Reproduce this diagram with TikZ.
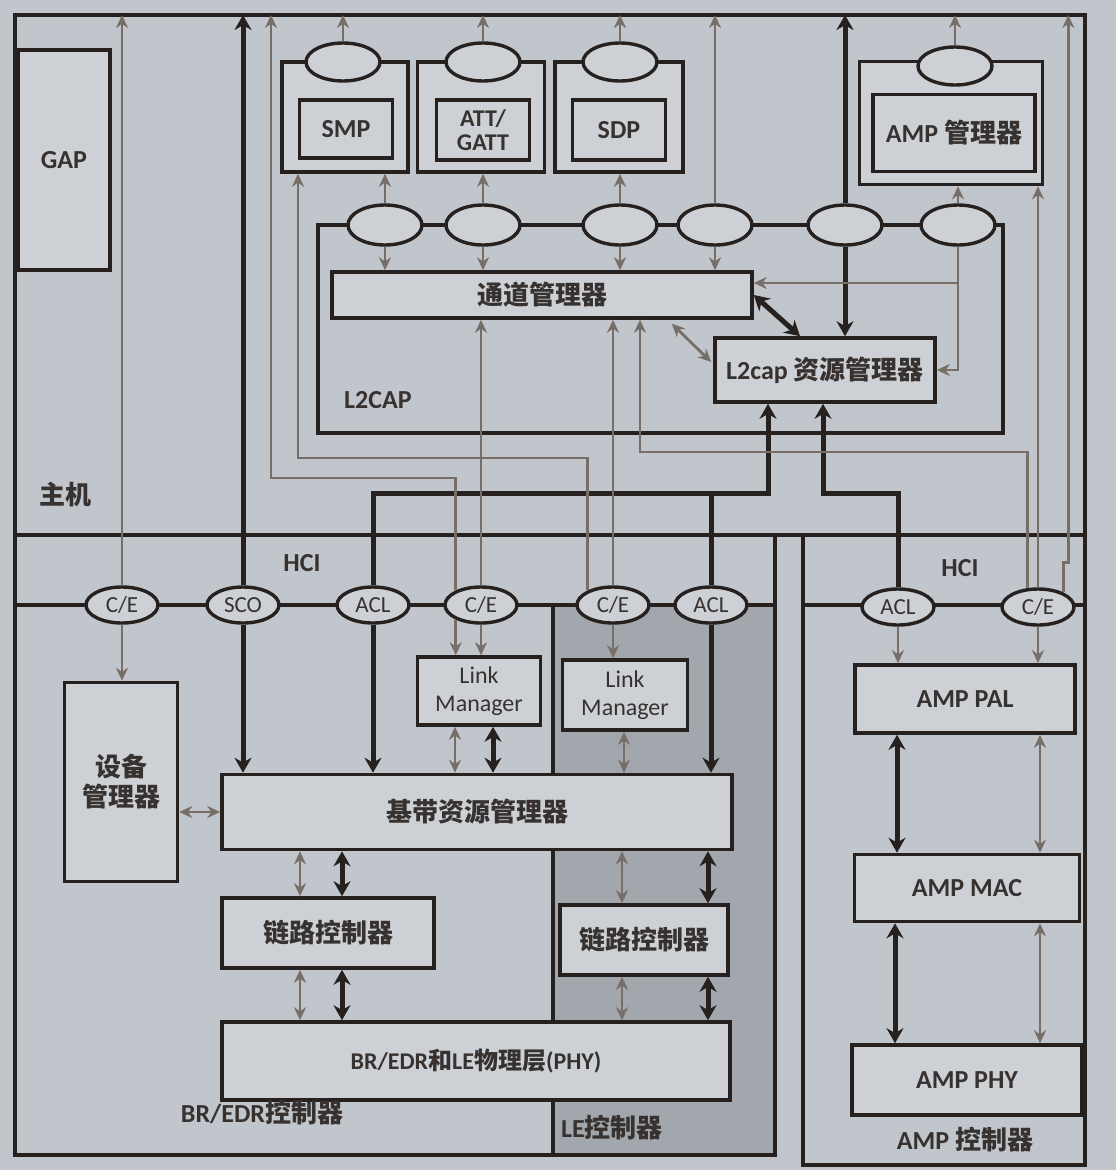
\documentclass[tikz,border=0pt]{standalone}
\usepackage{fontspec}
\setmainfont{Carlito}
\newfontfamily\cjk{Noto Sans CJK SC}
\newcommand{\zhtxt}[1]{{\cjk #1}}
\usetikzlibrary{shapes.geometric,arrows.meta,calc}
\definecolor{bgc}{RGB}{193,198,204}
\definecolor{boxc}{RGB}{205,209,214}
\definecolor{lec}{RGB}{162,167,174}
\definecolor{linec}{RGB}{38,33,30}
\definecolor{grayc}{RGB}{118,110,103}
\definecolor{textc}{RGB}{55,50,48}
\begin{document}
\begin{tikzpicture}[x=1pt,y=-1pt,
  box/.style={draw=linec,line width=3.6pt,fill=boxc,inner sep=2pt,align=center,text=textc,font=\fontsize{26}{30}\selectfont\bfseries},
  ell/.style={ellipse,draw=linec,line width=3.4pt,fill=boxc,minimum width=72pt,minimum height=36pt,inner sep=0pt,text=textc,font=\fontsize{23}{26}\selectfont},
  fr/.style={draw=linec,line width=3.6pt},
  gl/.style={draw=grayc,line width=2.8pt},
  bl/.style={draw=linec,line width=5pt},
  ga/.style={gl,-{Stealth[length=13pt,width=12pt]}},
  gd/.style={gl,{Stealth[length=13pt,width=12pt]}-{Stealth[length=13pt,width=12pt]}},
  ba/.style={bl,-{Stealth[length=15pt,width=17pt]}},
  bd/.style={bl,{Stealth[length=15pt,width=17pt]}-{Stealth[length=15pt,width=17pt]}},
  lbl/.style={text=textc,font=\fontsize{26}{30}\selectfont\bfseries}
]
\fill[bgc] (0,0) rectangle (1116,1170);
\useasboundingbox (0,0) rectangle (1116,1170);
\fill[lec] (553,605) rectangle (775,1155);
% frames
\draw[fr] (15,535) -- (15,15) -- (1085,15) -- (1085,1165) -- (803,1165) -- (803,535);
\draw[fr] (15,535) -- (1085,535);
\draw[fr] (15,535) -- (15,1155) -- (775,1155) -- (775,535);
\draw[fr] (15,605) -- (775,605);
\draw[fr] (803,605) -- (1085,605);
\draw[fr] (553,605) -- (553,1155);
\draw[fr] (318,225) rectangle (1003,433);
\coordinate (T) at (0,15);
% host boxes
\node[box,minimum width=92pt,minimum height=220pt] (gap) at (64,160) {GAP};
\node[box,minimum width=126pt,minimum height=110pt] (smpo) at (345,117) {};
\node[box,minimum width=93pt,minimum height=58pt] (smpi) at (346,129) {SMP};
\node[box,minimum width=127pt,minimum height=110pt] (atto) at (481,117) {};
\node[box,minimum width=93pt,minimum height=60pt,font=\fontsize{24}{24}\selectfont\bfseries] (atti) at (483,130) {ATT/\\GATT};
\node[box,minimum width=128pt,minimum height=110pt] (sdpo) at (619,117) {};
\node[box,minimum width=93pt,minimum height=60pt] (sdpi) at (619,130) {SDP};
\node[box,minimum width=183pt,minimum height=123pt] (ampmo) at (951,123) {};
\node[box,minimum width=162pt,minimum height=77pt] (ampmi) at (954,133) {AMP \zhtxt{管理器}};
\node[ell,minimum width=74pt,minimum height=38pt] (es) at (343,62) {};
\node[ell,minimum width=74pt,minimum height=38pt] (ea) at (483,62) {};
\node[ell,minimum width=74pt,minimum height=38pt] (ed) at (620,62) {};
\node[ell,minimum width=74pt,minimum height=38pt] (em) at (955,66) {};
% L2CAP
\node[ell,minimum width=74pt,minimum height=40pt] (l1) at (385,225) {};
\node[ell,minimum width=74pt,minimum height=40pt] (l2) at (483,225) {};
\node[ell,minimum width=74pt,minimum height=40pt] (l3) at (620,225) {};
\node[ell,minimum width=74pt,minimum height=40pt] (l4) at (715,225) {};
\node[ell,minimum width=74pt,minimum height=40pt] (l5) at (845,225) {};
\node[ell,minimum width=74pt,minimum height=40pt] (l6) at (958,225) {};
\node[box,minimum width=420pt,minimum height=46pt] (ch) at (542,295) {\zhtxt{通道管理器}};
\node[box,minimum width=220pt,minimum height=64pt] (res) at (825,370) {L2cap \zhtxt{资源管理器}};
\node[lbl] (l2lab) at (378,400) {L2CAP};
\node[lbl] (hostlab) at (65,495) {\zhtxt{主机}};
\node[lbl] (hci1) at (302,563) {HCI};
\node[lbl] (hci2) at (960,568) {HCI};
% HCI ellipses
\node[ell] (ce1) at (122,605) {C/E};
\node[ell] (sco) at (243,605) {SCO};
\node[ell] (acl1) at (373,605) {ACL};
\node[ell] (ce2) at (481,605) {C/E};
\node[ell] (ce3) at (613,605) {C/E};
\node[ell] (acl2) at (711,605) {ACL};
\node[ell] (aacl) at (898,607) {ACL};
\node[ell] (ace) at (1038,607) {C/E};
% controller boxes
\node[box,minimum width=113pt,minimum height=199pt] (dev) at (121,782) {\zhtxt{设备}\\\zhtxt{管理器}};
\node[box,minimum width=123pt,minimum height=68pt,font=\fontsize{24}{28}\selectfont] (lm1) at (479,691) {Link\\Manager};
\node[box,minimum width=125pt,minimum height=70pt,font=\fontsize{24}{28}\selectfont] (lm2) at (625,695) {Link\\Manager};
\node[box,minimum width=510pt,minimum height=75pt] (bb) at (477,812) {\zhtxt{基带资源管理器}};
\node[box,minimum width=212pt,minimum height=70pt] (lc1) at (328,933) {\zhtxt{链路控制器}};
\node[box,minimum width=168pt,minimum height=70pt] (lc2) at (644,940) {\zhtxt{链路控制器}};
\node[box,minimum width=508pt,minimum height=78pt,font=\fontsize{24}{28}\selectfont\bfseries] (phy) at (476,1061) {BR/EDR\zhtxt{和}LE\zhtxt{物理层}(PHY)};
\node[box,minimum width=220pt,minimum height=68pt] (pal) at (965,699) {AMP PAL};
\node[box,minimum width=225pt,minimum height=67pt] (mac) at (967,888) {AMP MAC};
\node[box,minimum width=230pt,minimum height=70pt] (aphy) at (967,1080) {AMP PHY};
\node[lbl] (brlab) at (262,1113) {BR/EDR\zhtxt{控制器}};
\node[lbl] (lelab) at (612,1128) {LE\zhtxt{控制器}};
\node[lbl] (amplab) at (965,1140) {AMP \zhtxt{控制器}};
% top arrows
\draw[ga] (ce1.north) -- (ce1.north |- T);
\draw[ba] (sco.north) -- (sco.north |- T);
\draw[ga] (es.north) -- (es.north |- T);
\draw[ga] (ea.north) -- (ea.north |- T);
\draw[ga] (ed.north) -- (ed.north |- T);
\draw[ga] (em.north) -- (em.north |- T);
\draw[ga] (l4.north) -- (l4.north |- T);
\draw[ba] (l5.north) -- (l5.north |- T);
% L2CAP ellipses
\draw[ga] (l1.north) -- (l1.north |- smpo.south);
\draw[ga] (l2.north) -- (l2.north |- atto.south);
\draw[ga] (l3.north) -- (l3.north |- sdpo.south);
\draw[ga] (l6.north) -- (l6.north |- ampmo.south);
\draw[ga] (l1.south) -- (l1.south |- ch.north);
\draw[ga] (l2.south) -- (l2.south |- ch.north);
\draw[ga] (l3.south) -- (l3.south |- ch.north);
\draw[ga] (l4.south) -- (l4.south |- ch.north);
\draw[ba] (l5.south) -- (l5.south |- res.north);
\draw[ga] (l6.south) |- (res.east);
\draw[ga] (l6.south |- 0,283) -- (ch.east |- 0,283);
\draw[bd] (ch.east) -- ($(res.north)+(-25,0)$);
\draw[gd] ($(ch.south east)+(-82,4)$) -- ($(res.west)+(-2,-8)$);
% HCI left
\draw[ga] (ce1.south) -- (ce1.south |- dev.north);
\draw[ba] (sco.south) -- (sco.south |- bb.north);
\draw[ba] (acl1.south) -- (acl1.south |- bb.north);
\draw[ba] (acl1.north) |- (768,493) -- (768,0 |- res.south);
\draw[bl] (acl2.north) -- (acl2.north |- 0,493);
\draw[ba] (acl2.south) -- (acl2.south |- bb.north);
\draw[ga] (ce2.150) |- (271,478) -- (271,0 |- T);
\draw[ga] (ce2.210) -- (ce2.210 |- lm1.north);
\draw[ga] (ce2.north) -- (ce2.north |- ch.south);
\draw[ga] (ce2.south) -- (ce2.south |- lm1.north);
\draw[ga] (ce3.150) |- (298,458) -- (298,0 |- smpo.south);
\draw[ga] (ce3.north) -- (ce3.north |- ch.south);
\draw[ga] (ce3.south) -- (ce3.south |- lm2.north);
% AMP HCI
\draw[ba] (aacl.north) |- (823,493) -- (823,0 |- res.south);
\draw[ga] (aacl.south) -- (aacl.south |- pal.north);
\draw[ga] (ace.south) -- (ace.south |- pal.north);
\draw[ga] (ace.north) -- (ace.north |- ampmo.south);
\draw[ga] (ace.120) |- (640,452) -- (640,0 |- ch.south);
\coordinate (jog) at ($(ace.30)+(5,-30)$);
\draw[ga] (ace.30) |- (jog) -- (jog |- T);
% controller internals
\draw[gd] (455,0 |- lm1.south) -- (455,0 |- bb.north);
\draw[bd] (493,0 |- lm1.south) -- (493,0 |- bb.north);
\draw[gd] (624,0 |- lm2.south) -- (624,0 |- bb.north);
\draw[gd] (dev.east |- bb.west) -- (bb.west);
\draw[gd] (300,0 |- bb.south) -- (300,0 |- lc1.north);
\draw[bd] (342,0 |- bb.south) -- (342,0 |- lc1.north);
\draw[gd] (300,0 |- lc1.south) -- (300,0 |- phy.north);
\draw[bd] (342,0 |- lc1.south) -- (342,0 |- phy.north);
\draw[gd] (622,0 |- bb.south) -- (622,0 |- lc2.north);
\draw[bd] (708,0 |- bb.south) -- (708,0 |- lc2.north);
\draw[gd] (622,0 |- lc2.south) -- (622,0 |- phy.north);
\draw[bd] (708,0 |- lc2.south) -- (708,0 |- phy.north);
\draw[bd] (897,0 |- pal.south) -- (897,0 |- mac.north);
\draw[gd] (1040,0 |- pal.south) -- (1040,0 |- mac.north);
\draw[bd] (895,0 |- mac.south) -- (895,0 |- aphy.north);
\draw[gd] (1040,0 |- mac.south) -- (1040,0 |- aphy.north);
\end{tikzpicture}
\end{document}
